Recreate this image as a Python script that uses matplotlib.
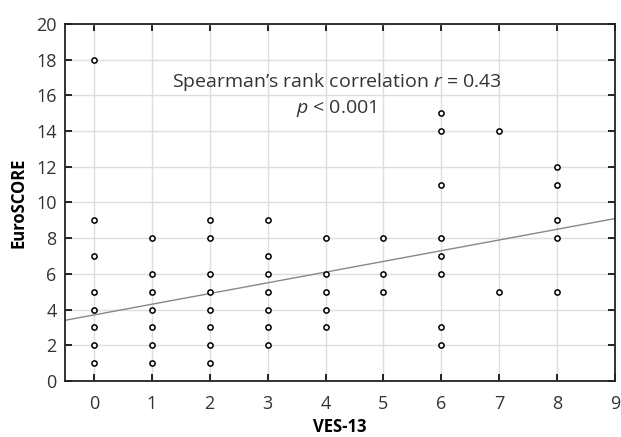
import matplotlib
matplotlib.use("Agg")
import matplotlib.pyplot as plt
import numpy as np

ves13 = [0]*8 + [1]*7 + [2]*8 + [3]*7 + [4]*5 + [5]*3 + [6]*8 + [7]*2 + [8]*5
euroscore = [18, 9, 7, 5, 4, 3, 2, 1,
             8, 6, 5, 4, 3, 2, 1,
             9, 8, 6, 5, 4, 3, 2, 1,
             9, 7, 6, 5, 4, 3, 2,
             8, 6, 5, 4, 3,
             8, 6, 5,
             15, 14, 11, 8, 7, 6, 3, 2,
             14, 5,
             12, 11, 9, 8, 5]
fit_intercept = 3.7
fit_slope = 0.6
x_ticks = list(range(0, 10))
y_ticks = list(range(0, 21, 2))

plt.rcParams['font.family'] = ['Open Sans', 'DejaVu Sans']
plt.rcParams['mathtext.fontset'] = 'custom'
plt.rcParams['mathtext.it'] = 'Open Sans:italic'
plt.rcParams['mathtext.rm'] = 'Open Sans'

fig = plt.figure(figsize=(6.21, 4.37), dpi=100)
ax = fig.add_axes([65/621, 1-381/437, (615-65)/621, (381-24)/437])

ax.set_xlim(-0.5, 9)
ax.set_ylim(0, 20)
ax.set_xticks(x_ticks)
ax.set_yticks(y_ticks)
ax.grid(True, color='#dddddd', linewidth=1)
ax.set_axisbelow(True)

xl = np.array([-0.5, 9])
ax.plot(xl, fit_intercept + fit_slope*xl, color='#888888', linewidth=1, zorder=2)
ax.scatter(ves13, euroscore, s=14, facecolors='white', edgecolors='black', linewidths=1.1, zorder=3, clip_on=False)

ax.tick_params(direction='in', top=True, right=True, length=5, width=1.2, labelsize=13, colors='black')
for lbl in ax.get_xticklabels() + ax.get_yticklabels():
    lbl.set_color('#333333')
ax.tick_params(axis='x', pad=10)
ax.tick_params(axis='y', pad=6)
for s in ax.spines.values():
    s.set_linewidth(1.3)
    s.set_color('#222222')

ax.set_xlabel('VES-13', fontsize=12, fontweight='bold', labelpad=4)
ax.set_ylabel('EuroSCORE', fontsize=12, fontweight='bold', labelpad=6)

ax.text(4.19, 16.75, "Spearman\u2019s rank correlation $r$ = 0.43", ha='center', va='center', fontsize=14, color='#333333')
ax.text(4.19, 15.25, "$p$ < 0.001", ha='center', va='center', fontsize=14, color='#333333')

fig.savefig('out.png', dpi=100)
